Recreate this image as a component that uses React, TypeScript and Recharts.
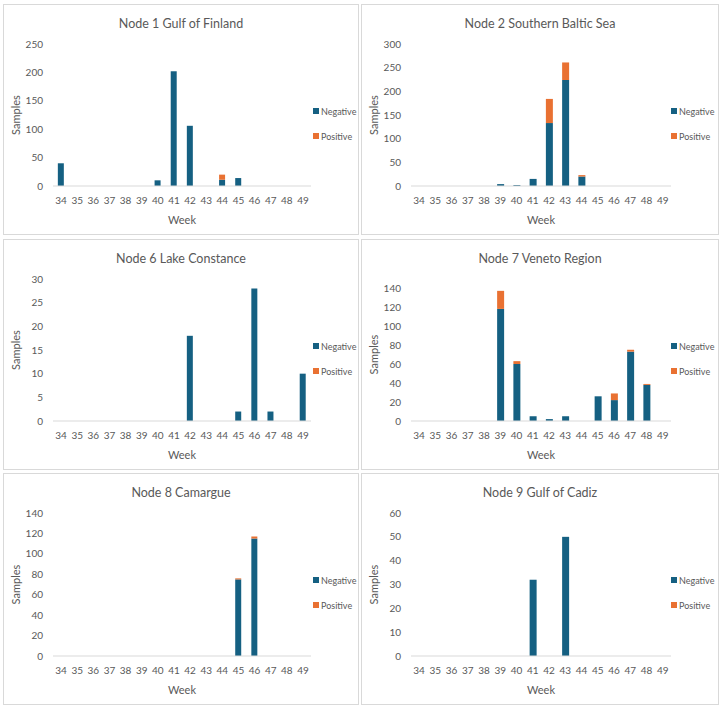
import React from 'react';
import { BarChart, Bar, XAxis, YAxis, Label } from 'recharts';

const weeks = ['34', '35', '36', '37', '38', '39', '40', '41', '42', '43', '44', '45', '46', '47', '48', '49'];

const node1Negative = [40, 0, 0, 0, 0, 0, 10, 202, 106, 0, 11, 14, 0, 0, 0, 0];
const node1Positive = [0, 0, 0, 0, 0, 0, 0, 0, 0, 0, 9, 0, 0, 0, 0, 0];
const node1Ticks = [0, 50, 100, 150, 200, 250];

const node2Negative = [0, 0, 0, 0, 0, 4, 2, 15, 133, 224, 20, 0, 0, 0, 0, 0];
const node2Positive = [0, 0, 0, 0, 0, 0, 0, 0, 51, 37, 3, 0, 0, 0, 0, 0];
const node2Ticks = [0, 50, 100, 150, 200, 250, 300];

const node6Negative = [0, 0, 0, 0, 0, 0, 0, 0, 18, 0, 0, 2, 28, 2, 0, 10];
const node6Positive = [0, 0, 0, 0, 0, 0, 0, 0, 0, 0, 0, 0, 0, 0, 0, 0];
const node6Ticks = [0, 5, 10, 15, 20, 25, 30];

const node7Negative = [0, 0, 0, 0, 0, 118, 60, 5, 2, 5, 0, 26, 22, 73, 38, 0];
const node7Positive = [0, 0, 0, 0, 0, 19, 3, 0, 0, 0, 0, 0, 7, 2, 1, 0];
const node7Ticks = [0, 20, 40, 60, 80, 100, 120, 140];

const node8Negative = [0, 0, 0, 0, 0, 0, 0, 0, 0, 0, 0, 75, 115, 0, 0, 0];
const node8Positive = [0, 0, 0, 0, 0, 0, 0, 0, 0, 0, 0, 1, 2, 0, 0, 0];
const node8Ticks = [0, 20, 40, 60, 80, 100, 120, 140];

const node9Negative = [0, 0, 0, 0, 0, 0, 0, 32, 0, 50, 0, 0, 0, 0, 0, 0];
const node9Positive = [0, 0, 0, 0, 0, 0, 0, 0, 0, 0, 0, 0, 0, 0, 0, 0];
const node9Ticks = [0, 10, 20, 30, 40, 50, 60];

const seriesNames = ['Negative', 'Positive'];
const seriesColors = ['#156082', '#E97132'];
const TXT = '#595959';
const FONT = 'Lato, "Noto Sans", sans-serif';

type PanelProps = {
  title: string;
  neg: number[];
  pos: number[];
  ticks: number[];
  left: number;
  top: number;
  width: number;
  height: number;
  plotTop: number;
};

function Panel({ title, neg, pos, ticks, left, top, width, height, plotTop }: PanelProps) {
  const data = weeks.map((w, i) => ({ week: w, Negative: neg[i], Positive: pos[i] }));
  const max = ticks[ticks.length - 1];
  return (
    <div
      style={{
        position: 'absolute',
        left,
        top,
        width,
        height,
        boxSizing: 'border-box',
        border: '1px solid #d9d9d9',
        background: '#fff',
      }}
    >
      <div
        style={{
          position: 'absolute',
          left: 0,
          top: 11,
          width: '100%',
          textAlign: 'center',
          fontFamily: FONT,
          fontSize: 12.5,
          lineHeight: '16px',
          color: TXT,
        }}
      >
        {title}
      </div>
      <div style={{ position: 'absolute', left: 309, top: 100, fontFamily: FONT, fontSize: 9, color: TXT }}>
        {seriesNames.map((n, i) => (
          <div key={n} style={{ display: 'flex', alignItems: 'center', height: 12, marginBottom: i === 0 ? 13 : 0 }}>
            <span style={{ display: 'inline-block', width: 6, height: 6, background: seriesColors[i], marginRight: 2 }} />
            <span>{n}</span>
          </div>
        ))}
      </div>
      <BarChart
        width={width - 2}
        height={height - 2}
        data={data}
        margin={{ top: plotTop, right: 47, bottom: 8, left: 5 }}
        barCategoryGap="30%"
      >
        <XAxis
          dataKey="week"
          height={40}
          interval={0}
          tickLine={false}
          axisLine={{ stroke: '#d9d9d9' }}
          tickMargin={5}
          tick={{ fill: TXT, fontSize: 10, fontFamily: FONT }}
        >
          <Label value="Week" position="insideBottom" offset={2} style={{ fill: TXT, fontSize: 11, fontFamily: FONT }} />
        </XAxis>
        <YAxis
          width={44}
          domain={[0, max]}
          ticks={ticks}
          interval={0}
          tickLine={false}
          axisLine={false}
          tickMargin={4}
          tick={{ fill: TXT, fontSize: 10, fontFamily: FONT }}
        >
          <Label
            value="Samples"
            angle={-90}
            position="insideLeft"
            offset={7}
            style={{ fill: TXT, fontSize: 11, fontFamily: FONT, textAnchor: 'middle' }}
          />
        </YAxis>
        <Bar dataKey="Negative" stackId="a" fill={seriesColors[0]} isAnimationActive={false} />
        <Bar dataKey="Positive" stackId="a" fill={seriesColors[1]} isAnimationActive={false} />
      </BarChart>
    </div>
  );
}

export default function App() {
  return (
    <div style={{ position: 'absolute', left: 0, top: 0, width: 719, height: 707, background: '#fff', overflow: 'hidden' }}>
      <Panel title="Node 1 Gulf of Finland" neg={node1Negative} pos={node1Positive} ticks={node1Ticks}
        left={3} top={4} width={356} height={231} plotTop={39} />
      <Panel title="Node 2 Southern Baltic Sea" neg={node2Negative} pos={node2Positive} ticks={node2Ticks}
        left={361} top={4} width={358} height={231} plotTop={39} />
      <Panel title="Node 6 Lake Constance" neg={node6Negative} pos={node6Positive} ticks={node6Ticks}
        left={3} top={239} width={356} height={231} plotTop={39} />
      <Panel title="Node 7 Veneto Region" neg={node7Negative} pos={node7Positive} ticks={node7Ticks}
        left={361} top={239} width={358} height={231} plotTop={48} />
      <Panel title="Node 8 Camargue" neg={node8Negative} pos={node8Positive} ticks={node8Ticks}
        left={3} top={473} width={356} height={232} plotTop={39} />
      <Panel title="Node 9 Gulf of Cadiz" neg={node9Negative} pos={node9Positive} ticks={node9Ticks}
        left={361} top={473} width={358} height={232} plotTop={39} />
    </div>
  );
}
